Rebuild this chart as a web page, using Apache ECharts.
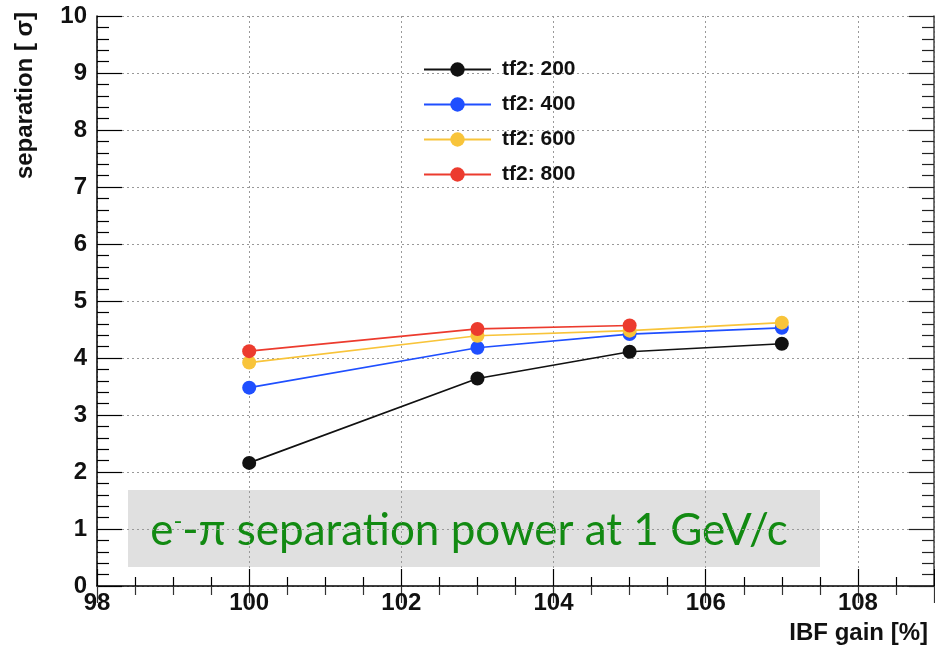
<!DOCTYPE html>
<html>
<head>
<meta charset="utf-8">
<script src="https://cdn.jsdelivr.net/npm/echarts@6/dist/echarts.min.js"></script>
<style>html,body{margin:0;padding:0;background:#fff}#c{width:935px;height:646px}</style>
</head>
<body>
<div id="c"></div>
<script>
const xValues = [100, 103, 105, 107];
const tf200 = [2.16, 3.64, 4.11, 4.25];
const tf400 = [3.48, 4.18, 4.42, 4.53];
const tf600 = [3.92, 4.39, 4.48, 4.62];
const tf800 = [4.12, 4.51, 4.57];
const seriesNames = ['tf2: 200', 'tf2: 400', 'tf2: 600', 'tf2: 800'];
const seriesColors = ['#111111', '#1f4fff', '#f8c43a', '#ec3b2e'];
const seriesData = [tf200, tf400, tf600, tf800];
const yTitle = 'separation [ σ]';
const xTitle = 'IBF gain [%]';
const annotation = 'e{sup|-}-π separation power at 1 GeV/c';

const FONT = 'Liberation Sans, Arial, sans-serif';
const chart = echarts.init(document.getElementById('c'), null, {renderer: 'canvas'});

const series = seriesData.map((vals, i) => ({
  name: seriesNames[i],
  type: 'line',
  xAxisIndex: 0,
  yAxisIndex: 0,
  data: vals.map((v, j) => [xValues[j], v]),
  symbol: 'circle',
  symbolSize: 14,
  itemStyle: {color: seriesColors[i]},
  lineStyle: {color: seriesColors[i], width: 1.7},
  z: 3 + i
}));

chart.setOption({
  animation: false,
  backgroundColor: '#ffffff',
  grid: {left: 97, right: 1, top: 16, bottom: 60, containLabel: false},
  legend: {
    orient: 'vertical',
    left: 418,
    top: 54,
    itemWidth: 67,
    itemHeight: 18,
    itemGap: 14,
    textStyle: {fontFamily: FONT, fontWeight: 'bold', fontSize: 21, color: '#111', padding: [0, 0, 0, 6]},
    data: seriesNames
  },
  xAxis: [{
    type: 'value', min: 98, max: 109, interval: 2, position: 'bottom',
    axisLine: {show: true, onZero: false, lineStyle: {color: '#000', width: 1.5}},
    axisTick: {show: true, inside: true, length: 17, lineStyle: {color: '#000', width: 1.2}},
    minorTick: {show: true, splitNumber: 4, length: 9, lineStyle: {color: '#000', width: 1.2}},
    axisLabel: {fontFamily: FONT, fontWeight: 'bold', fontSize: 24, color: '#111', margin: 5, showMaxLabel: false},
    splitLine: {show: true, lineStyle: {color: '#999', type: [2, 3], width: 1}}
  }, {
    type: 'value', min: 98, max: 109, interval: 2, position: 'top',
    axisLine: {show: false},
    axisTick: {show: true, inside: true, length: 17, lineStyle: {color: '#333', width: 1.2}},
    minorTick: {show: true, splitNumber: 4, length: 9, lineStyle: {color: '#333', width: 1.2}},
    axisLabel: {show: false},
    splitLine: {show: false}
  }],
  yAxis: [{
    type: 'value', min: 0, max: 10, interval: 1, position: 'left',
    axisLine: {show: true, onZero: false, lineStyle: {color: '#000', width: 1.5}},
    axisTick: {show: true, inside: true, length: 25, lineStyle: {color: '#000', width: 1.2}},
    minorTick: {show: true, splitNumber: 5, length: 12, lineStyle: {color: '#000', width: 1.2}},
    axisLabel: {fontFamily: FONT, fontWeight: 'bold', fontSize: 24, color: '#111', margin: 10},
    splitLine: {show: true, lineStyle: {color: '#999', type: [2, 3], width: 1}}
  }, {
    type: 'value', min: 0, max: 10, interval: 1, position: 'right',
    axisLine: {show: true, onZero: false, lineStyle: {color: '#444', width: 1.5}},
    axisTick: {show: true, inside: true, length: 25, lineStyle: {color: '#222', width: 1.2}},
    minorTick: {show: true, splitNumber: 5, length: 12, lineStyle: {color: '#222', width: 1.2}},
    axisLabel: {show: false},
    splitLine: {show: false}
  }],
  series: series,
  graphic: [
    {
      type: 'text', x: 25, y: 12, rotation: Math.PI / 2,
      style: {text: yTitle, fontFamily: FONT, fontWeight: 'bold', fontSize: 24, fill: '#111', align: 'right', verticalAlign: 'middle'}
    },
    {
      type: 'text', x: 928, y: 633,
      style: {text: xTitle, fontFamily: FONT, fontWeight: 'bold', fontSize: 24, fill: '#111', align: 'right', verticalAlign: 'middle'}
    },
    {
      type: 'group', x: 128, y: 490, z: 50,
      children: [
        {type: 'rect', shape: {x: 0, y: 0, width: 692, height: 77}, style: {fill: '#e0e0e0'}},
        {
          type: 'text', x: 341, y: 41,
          style: {
            text: annotation,
            rich: {sup: {fontSize: 24, fill: '#128a12', fontFamily: 'Lato, Open Sans, sans-serif', verticalAlign: 'top', padding: [0, 0, 18, 0]}},
            fontFamily: 'Lato, Open Sans, sans-serif', fontSize: 44, fill: '#128a12',
            align: 'center', verticalAlign: 'middle'
          }
        }
      ]
    }
  ]
});
</script>
</body>
</html>
